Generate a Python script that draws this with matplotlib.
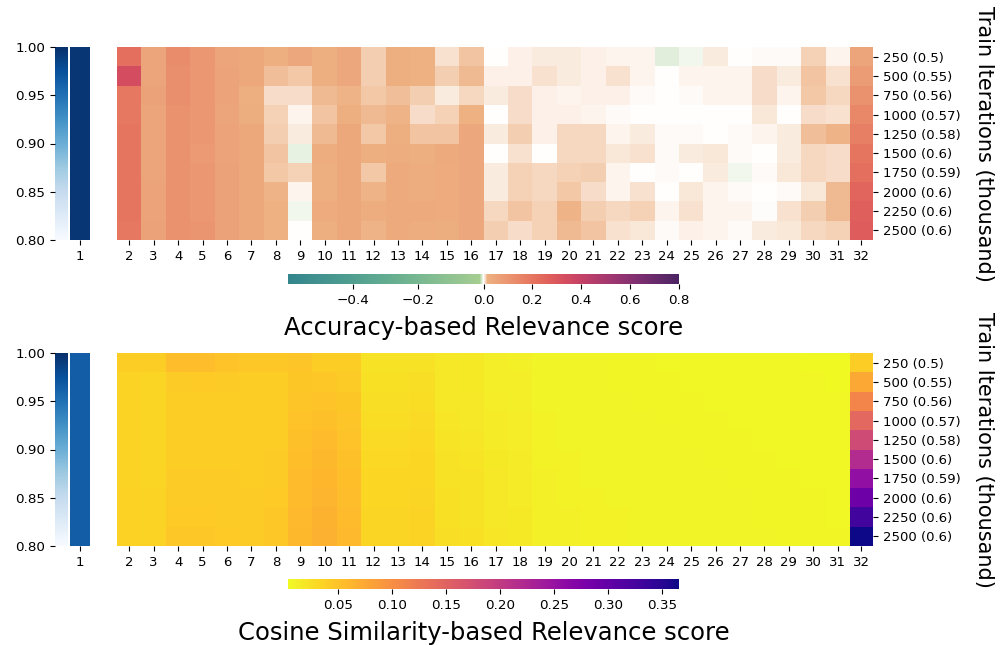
import numpy as np
import matplotlib
matplotlib.use("Agg")
import matplotlib.pyplot as plt
import seaborn as sns
from matplotlib.colors import LinearSegmentedColormap, TwoSlopeNorm, Normalize

# rows: train iterations (thousand) with accuracy in brackets
iter_labels = ["250 (0.5)", "500 (0.55)", "750 (0.56)", "1000 (0.57)", "1250 (0.58)",
               "1500 (0.6)", "1750 (0.59)", "2000 (0.6)", "2250 (0.6)", "2500 (0.6)"]
mid_layers = list(range(2, 32))

# ---- accuracy-based relevance ----
acc_layer1 = [0.995] * 10
# one list per layer 2..31 (top to bottom = 250 .. 2500)
acc_mid = [
    [0.22, 0.34, 0.19, 0.19, 0.20, 0.20, 0.20, 0.20, 0.20, 0.19],
    [0.05, 0.05, 0.06, 0.05, 0.05, 0.05, 0.05, 0.055, 0.055, 0.06],
    [0.13, 0.12, 0.12, 0.11, 0.11, 0.11, 0.11, 0.11, 0.11, 0.11],
    [0.09, 0.09, 0.09, 0.09, 0.09, 0.085, 0.095, 0.095, 0.095, 0.10],
    [0.05, 0.055, 0.055, 0.05, 0.055, 0.055, 0.06, 0.06, 0.06, 0.06],
    [0.045, 0.045, 0.018, 0.022, 0.045, 0.045, 0.045, 0.045, 0.045, 0.045],
    [0.02, 0.013, 0.007, 0.009, 0.010, 0.012, 0.011, 0.015, 0.016, 0.016],
    [0.04, 0.011, 0.007, 0.002, 0.004, -0.003, 0.009, 0.002, -0.002, 0.0],
    [0.018, 0.018, 0.014, 0.012, 0.014, 0.025, 0.021, 0.021, 0.03, 0.021],
    [0.04, 0.04, 0.015, 0.019, 0.045, 0.045, 0.045, 0.045, 0.045, 0.045],
    [0.010, 0.010, 0.011, 0.014, 0.011, 0.017, 0.011, 0.015, 0.025, 0.015],
    [0.017, 0.018, 0.013, 0.015, 0.019, 0.026, 0.035, 0.035, 0.035, 0.035],
    [0.016, 0.016, 0.010, 0.007, 0.012, 0.018, 0.023, 0.023, 0.035, 0.026],
    [0.006, 0.010, 0.004, 0.009, 0.012, 0.035, 0.03, 0.03, 0.03, 0.022],
    [0.012, 0.014, 0.008, 0.016, 0.04, 0.04, 0.04, 0.04, 0.04, 0.04],
    [0.0, 0.003, 0.004, 0.0, 0.004, 0.0, 0.004, 0.004, 0.008, 0.010],
    [0.003, 0.003, 0.007, 0.007, 0.010, 0.006, 0.009, 0.009, 0.012, 0.007],
    [0.004, 0.006, 0.003, 0.003, 0.003, 0.0, 0.008, 0.008, 0.009, 0.009],
    [0.004, 0.004, 0.002, 0.003, 0.008, 0.008, 0.009, 0.011, 0.015, 0.014],
    [0.003, 0.003, 0.003, 0.002, 0.008, 0.008, 0.010, 0.007, 0.010, 0.012],
    [0.002, 0.006, 0.003, 0.001, 0.002, 0.005, 0.002, 0.002, 0.008, 0.006],
    [0.002, 0.002, 0.001, 0.0, 0.004, 0.006, 0.0, 0.006, 0.009, 0.005],
    [-0.004, 0.0, 0.0, 0.0, 0.001, 0.001, 0.001, 0.0, 0.002, 0.001],
    [-0.002, 0.002, 0.001, 0.0, 0.001, 0.004, 0.0, 0.005, 0.006, 0.003],
    [0.004, 0.002, 0.002, 0.0, 0.0, 0.005, 0.004, 0.002, 0.002, 0.002],
    [0.0, 0.002, 0.002, 0.0, 0.001, 0.001, -0.002, 0.001, 0.002, 0.001],
    [0.001, 0.007, 0.007, 0.005, 0.002, 0.0, 0.001, 0.0, 0.0005, 0.004],
    [0.001, 0.004, 0.002, 0.0, 0.004, 0.004, 0.005, 0.001, 0.006, 0.005],
    [0.009, 0.012, 0.011, 0.007, 0.013, 0.008, 0.008, 0.005, 0.010, 0.008],
    [0.002, 0.006, 0.008, 0.006, 0.015, 0.007, 0.007, 0.014, 0.014, 0.009],
]
acc_layer32 = [0.05, 0.08, 0.11, 0.14, 0.17, 0.20, 0.22, 0.25, 0.27, 0.28]

# ---- cosine similarity-based relevance ----
cos_layer1 = [0.965] * 10
cos_mid = [
    [0.040, 0.036, 0.036, 0.036, 0.036, 0.036, 0.036, 0.037, 0.037, 0.037],
    [0.040, 0.034, 0.034, 0.034, 0.034, 0.034, 0.034, 0.035, 0.035, 0.035],
    [0.055, 0.042, 0.040, 0.040, 0.040, 0.041, 0.042, 0.043, 0.044, 0.045],
    [0.055, 0.044, 0.041, 0.041, 0.041, 0.041, 0.042, 0.043, 0.044, 0.045],
    [0.050, 0.042, 0.040, 0.040, 0.040, 0.041, 0.042, 0.043, 0.043, 0.044],
    [0.045, 0.040, 0.039, 0.039, 0.040, 0.040, 0.041, 0.042, 0.042, 0.043],
    [0.045, 0.040, 0.040, 0.040, 0.041, 0.042, 0.043, 0.044, 0.045, 0.045],
    [0.048, 0.047, 0.048, 0.050, 0.052, 0.054, 0.056, 0.057, 0.058, 0.059],
    [0.040, 0.045, 0.050, 0.053, 0.056, 0.059, 0.061, 0.063, 0.065, 0.066],
    [0.040, 0.043, 0.046, 0.048, 0.050, 0.052, 0.054, 0.055, 0.057, 0.058],
    [0.022, 0.024, 0.026, 0.028, 0.030, 0.031, 0.032, 0.033, 0.034, 0.034],
    [0.022, 0.024, 0.026, 0.028, 0.030, 0.031, 0.032, 0.033, 0.034, 0.034],
    [0.022, 0.025, 0.027, 0.029, 0.031, 0.032, 0.033, 0.034, 0.035, 0.035],
    [0.018, 0.018, 0.019, 0.020, 0.021, 0.022, 0.023, 0.024, 0.024, 0.025],
    [0.017, 0.017, 0.018, 0.019, 0.020, 0.021, 0.022, 0.023, 0.023, 0.024],
    [0.012, 0.013, 0.014, 0.015, 0.016, 0.017, 0.018, 0.019, 0.019, 0.020],
    [0.011, 0.012, 0.013, 0.014, 0.014, 0.015, 0.016, 0.016, 0.017, 0.017],
    [0.009, 0.009, 0.009, 0.010, 0.010, 0.010, 0.011, 0.011, 0.011, 0.011],
    [0.008, 0.008, 0.009, 0.009, 0.009, 0.010, 0.010, 0.010, 0.011, 0.011],
    [0.008, 0.008, 0.008, 0.008, 0.009, 0.009, 0.009, 0.010, 0.010, 0.010],
    [0.007, 0.007, 0.008, 0.008, 0.008, 0.009, 0.009, 0.009, 0.010, 0.010],
    [0.007, 0.007, 0.007, 0.008, 0.008, 0.008, 0.009, 0.009, 0.009, 0.009],
    [0.006, 0.007, 0.007, 0.007, 0.008, 0.008, 0.008, 0.009, 0.009, 0.009],
    [0.006, 0.006, 0.007, 0.007, 0.007, 0.008, 0.008, 0.008, 0.008, 0.009],
    [0.006, 0.006, 0.006, 0.007, 0.007, 0.007, 0.008, 0.008, 0.008, 0.008],
    [0.005, 0.006, 0.006, 0.006, 0.007, 0.007, 0.007, 0.008, 0.008, 0.008],
    [0.005, 0.005, 0.006, 0.006, 0.006, 0.007, 0.007, 0.007, 0.007, 0.008],
    [0.005, 0.005, 0.005, 0.006, 0.006, 0.006, 0.007, 0.007, 0.007, 0.007],
    [0.004, 0.005, 0.005, 0.005, 0.006, 0.006, 0.006, 0.007, 0.007, 0.007],
    [0.0035, 0.004, 0.005, 0.005, 0.005, 0.006, 0.006, 0.006, 0.006, 0.007],
]
cos_layer32 = [0.04, 0.075, 0.11, 0.145, 0.18, 0.22, 0.255, 0.29, 0.33, 0.366]

# diverging map: crest (negative) -> white -> flare (positive)
crest = sns.color_palette("crest", as_cmap=True)
flare = sns.color_palette("flare", as_cmap=True)
n = 16
stops = [(p, crest(c)) for p, c in zip(np.linspace(0, 0.49, n), np.linspace(0.5, 0.0, n))]
stops += [(0.5, (1, 1, 1, 1))]
stops += [(p, flare(c)) for p, c in zip(np.linspace(0.51, 1.0, n), np.linspace(0.0, 1.0, n))]
acc_cmap = LinearSegmentedColormap.from_list("crest_flare", stops, N=4096)
acc_norm = TwoSlopeNorm(vcenter=0.0, vmin=-0.6, vmax=0.8)
cos_norm = Normalize(vmin=0.0035, vmax=0.366)

fig = plt.figure(figsize=(10.03, 6.45), dpi=100)


def box(x0, y0, x1, y1):
    return [x0 / 1003, 1 - y1 / 645, (x1 - x0) / 1003, (y1 - y0) / 645]


def draw_row(y0, y1, cb_y0, layer1, mid, layer32, cmap, norm, cb_ticks, cb_label):
    ax_cb1 = fig.add_axes(box(55, y0, 68, y1))
    ax1 = fig.add_axes(box(70, y0, 90, y1))
    axm = fig.add_axes(box(117, y0, 850, y1))
    ax32 = fig.add_axes(box(850, y0, 873, y1))
    ax_cb = fig.add_axes(box(288, cb_y0, 679, cb_y0 + 10))

    sns.heatmap(np.array(layer1)[:, None], ax=ax1, cmap="Blues", vmin=0.8, vmax=1.0,
                cbar_ax=ax_cb1, xticklabels=["1"], yticklabels=False)
    ax_cb1.yaxis.tick_left()
    ax_cb1.tick_params(labelsize=9.7)

    sns.heatmap(np.array(mid).T, ax=axm, cmap=cmap, norm=norm, cbar=True, cbar_ax=ax_cb,
                cbar_kws={"orientation": "horizontal"},
                xticklabels=mid_layers, yticklabels=False)
    sns.heatmap(np.array(layer32)[:, None], ax=ax32, cmap=cmap, norm=norm, cbar=False,
                xticklabels=["32"], yticklabels=iter_labels)

    for ax in (ax1, axm, ax32):
        ax.tick_params(axis="x", labelsize=9.5, rotation=0)
    ax32.yaxis.tick_right()
    ax32.tick_params(axis="y", labelsize=9.5, labelrotation=0)
    ax32.yaxis.set_label_position("right")
    ax32.set_ylabel("Train Iterations (thousand)", fontsize=15, rotation=270, labelpad=24)

    ax_cb.set_xticks(cb_ticks)
    ax_cb.tick_params(labelsize=9.7)
    ax_cb.set_xlabel(cb_label, fontsize=17.5, labelpad=7)


draw_row(47, 240, 274, acc_layer1, acc_mid, acc_layer32, acc_cmap, acc_norm,
         [-0.4, -0.2, 0.0, 0.2, 0.4, 0.6, 0.8], "Accuracy-based Relevance score")
draw_row(353, 546, 579, cos_layer1, cos_mid, cos_layer32, "plasma_r", cos_norm,
         [0.05, 0.10, 0.15, 0.20, 0.25, 0.30, 0.35], "Cosine Similarity-based Relevance score")

fig.savefig("out.png", dpi=100)
